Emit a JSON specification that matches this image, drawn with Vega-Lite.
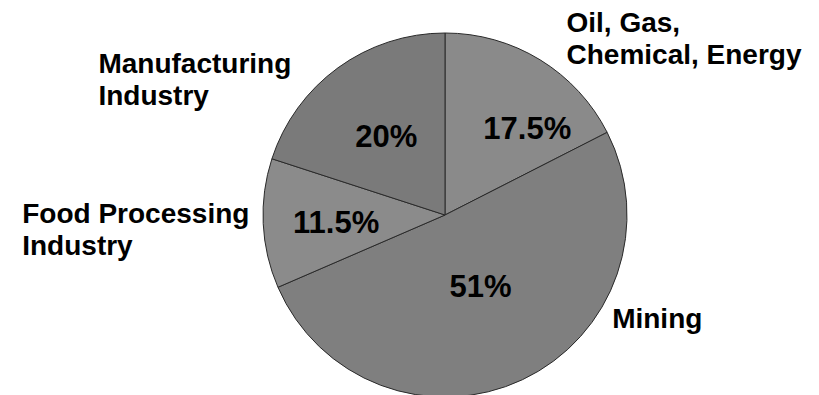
{
  "$schema": "https://vega.github.io/schema/vega-lite/v6.json",
  "width": 748,
  "height": 360,
  "autosize": {"type": "none"},
  "padding": {"left": 71, "top": 35, "right": 0, "bottom": 0},
  "background": "white",
  "config": {"view": {"stroke": null}},
  "data": {
    "values": [
      {"sector": "Oil, Gas, Chemical, Energy", "label": "Oil, Gas,\nChemical, Energy", "share": 17.5, "pct": "17.5%", "order": 1},
      {"sector": "Mining", "label": "Mining", "share": 51, "pct": "51%", "order": 2},
      {"sector": "Food Processing Industry", "label": "Food Processing\nIndustry", "share": 11.5, "pct": "11.5%", "order": 3},
      {"sector": "Manufacturing Industry", "label": "Manufacturing\nIndustry", "share": 20, "pct": "20%", "order": 4}
    ]
  },
  "encoding": {
    "theta": {"field": "share", "type": "quantitative", "stack": true},
    "order": {"field": "order", "type": "quantitative"}
  },
  "layer": [
    {
      "mark": {"type": "arc", "outerRadius": 182, "stroke": "#2a2a2a", "strokeWidth": 1},
      "encoding": {
        "color": {
          "field": "sector",
          "type": "nominal",
          "scale": {
            "domain": ["Oil, Gas, Chemical, Energy", "Mining", "Food Processing Industry", "Manufacturing Industry"],
            "range": ["#8a8a8a", "#7f7f7f", "#8b8b8b", "#7a7a7a"]
          },
          "legend": null
        }
      }
    },
    {
      "mark": {"type": "text", "radius": 100, "dx": 30, "dy": 0, "align": "center", "baseline": "middle", "font": "Liberation Sans", "fontWeight": "bold", "fontSize": 31, "fill": "black"},
      "encoding": {"text": {"condition": {"test": "datum.order == 1", "field": "pct"}, "value": ""}}
    },
    {
      "mark": {"type": "text", "radius": 100, "dx": -7, "dy": -17, "align": "center", "baseline": "middle", "font": "Liberation Sans", "fontWeight": "bold", "fontSize": 31, "fill": "black"},
      "encoding": {"text": {"condition": {"test": "datum.order == 2", "field": "pct"}, "value": ""}}
    },
    {
      "mark": {"type": "text", "radius": 100, "dx": -9, "dy": 4, "align": "center", "baseline": "middle", "font": "Liberation Sans", "fontWeight": "bold", "fontSize": 31, "fill": "black"},
      "encoding": {"text": {"condition": {"test": "datum.order == 3", "field": "pct"}, "value": ""}}
    },
    {
      "mark": {"type": "text", "radius": 100, "dx": 0, "dy": 4, "align": "center", "baseline": "middle", "font": "Liberation Sans", "fontWeight": "bold", "fontSize": 31, "fill": "black"},
      "encoding": {"text": {"condition": {"test": "datum.order == 4", "field": "pct"}, "value": ""}}
    },
    {
      "mark": {"type": "text", "radius": 200, "dx": 17, "dy": -12, "align": "left", "baseline": "alphabetic", "lineBreak": "\n", "lineHeight": 32, "font": "Liberation Sans", "fontWeight": "bold", "fontSize": 28, "fill": "black"},
      "encoding": {"text": {"condition": {"test": "datum.order == 1", "field": "label"}, "value": ""}}
    },
    {
      "mark": {"type": "text", "radius": 200, "dx": 82, "dy": -68, "align": "left", "baseline": "alphabetic", "lineBreak": "\n", "lineHeight": 32, "font": "Liberation Sans", "fontWeight": "bold", "fontSize": 28, "fill": "black"},
      "encoding": {"text": {"condition": {"test": "datum.order == 2", "field": "label"}, "value": ""}}
    },
    {
      "mark": {"type": "text", "radius": 200, "dx": -223, "dy": -1, "align": "left", "baseline": "alphabetic", "lineBreak": "\n", "lineHeight": 32, "font": "Liberation Sans", "fontWeight": "bold", "fontSize": 28, "fill": "black"},
      "encoding": {"text": {"condition": {"test": "datum.order == 3", "field": "label"}, "value": ""}}
    },
    {
      "mark": {"type": "text", "radius": 200, "dx": -229, "dy": 20, "align": "left", "baseline": "alphabetic", "lineBreak": "\n", "lineHeight": 32, "font": "Liberation Sans", "fontWeight": "bold", "fontSize": 28, "fill": "black"},
      "encoding": {"text": {"condition": {"test": "datum.order == 4", "field": "label"}, "value": ""}}
    }
  ]
}
